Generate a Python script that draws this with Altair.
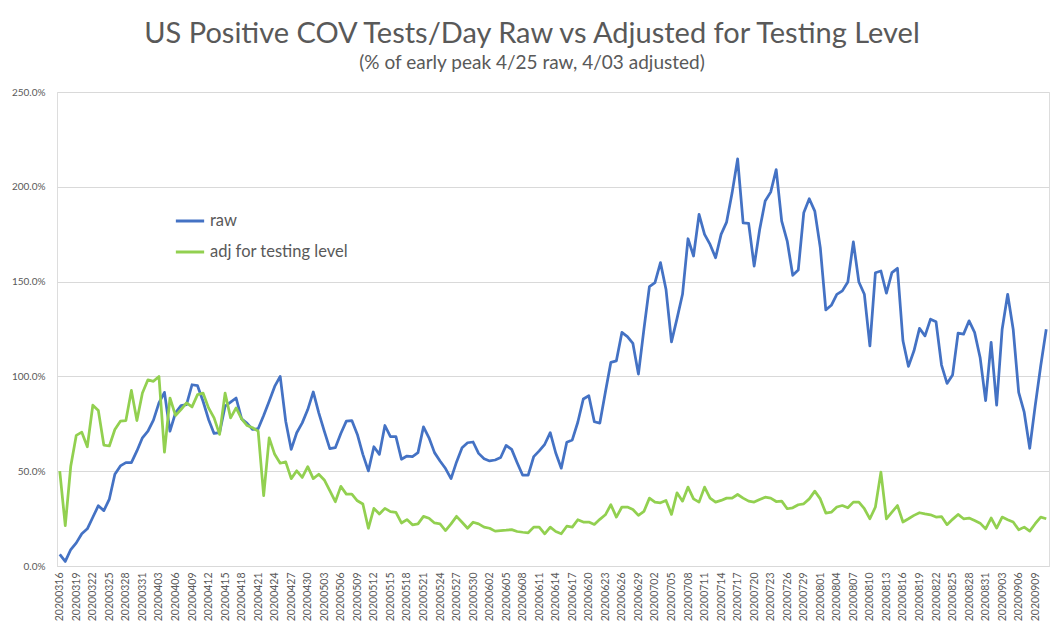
import altair as alt
import pandas as pd

# categories: daily dates 2020-03-16 .. 2020-09-11
dates = [d.strftime("%Y%m%d") for d in pd.date_range("2020-03-16", "2020-09-11", freq="D")]
tick_labels = dates[::3]

raw = [6.1, 2.4, 8.7, 12.2, 17.0, 19.6, 25.7, 31.8, 29.2, 35.3,
       48.4, 52.8, 54.5, 54.5, 60.7, 67.6, 71.1, 76.9, 86.0, 91.6,
       71.1, 80.8, 84.6, 85.1, 95.6, 95.1, 86.9, 77.3, 69.9, 70.3,
       84.3, 86.4, 88.6, 77.6, 75.2, 72.0, 72.4, 79.4, 86.9, 94.7,
       100.0, 76.4, 61.5, 70.3, 75.5, 82.5, 91.8, 80.8, 71.1, 61.9,
       62.4, 69.9, 76.4, 76.7, 69.4, 58.9, 50.2, 62.9, 58.9, 74.1,
       68.2, 68.2, 56.3, 58.0, 57.7, 59.8, 73.4, 67.6, 59.8, 55.4,
       51.4, 46.1, 54.9, 62.4, 65.0, 65.4, 59.4, 56.6, 55.4, 55.9,
       57.2, 63.6, 61.5, 54.5, 47.9, 47.9, 57.7, 60.7, 64.2, 70.3,
       59.6, 51.6, 65.3, 66.5, 75.8, 88.1, 89.8, 76.1, 75.4, 91.6,
       107.4, 108.2, 123.2, 121.0, 117.4, 101.2, 124.9, 147.4, 149.5, 160.0,
       146.0, 118.2, 130.5, 143.3, 172.6, 163.5, 185.4, 174.9, 169.6, 162.6,
       174.9, 181.4, 196.8, 214.7, 181.0, 180.7, 158.2, 177.5, 192.5, 197.2,
       209.1, 181.9, 171.4, 153.3, 156.1, 186.3, 193.7, 187.2, 167.9, 135.1,
       137.5, 143.3, 145.1, 149.8, 170.9, 149.8, 143.3, 116.1, 154.7, 155.6,
       143.9, 154.7, 157.0, 118.8, 105.3, 113.5, 125.3, 121.4, 130.2, 128.8,
       106.0, 96.3, 100.7, 122.8, 122.3, 129.3, 123.2, 110.0, 87.2, 117.9,
       84.9, 124.9, 143.3, 124.9, 91.6, 81.1, 62.1, 84.6, 105.6, 124.9]

adj = [50.0, 21.3, 52.8, 68.9, 70.6, 62.9, 84.8, 82.0, 63.8, 63.3,
       72.0, 76.4, 76.7, 92.6, 76.7, 91.2, 98.2, 97.4, 100.0, 60.1,
       88.6, 79.4, 82.5, 86.0, 83.9, 90.4, 91.2, 83.4, 78.1, 69.4,
       91.2, 78.1, 83.4, 77.6, 74.1, 72.9, 71.1, 37.1, 67.6, 58.9,
       54.2, 54.9, 46.1, 50.2, 46.7, 52.4, 46.1, 48.4, 45.4, 39.7,
       33.9, 42.0, 37.9, 37.9, 34.4, 32.7, 19.9, 30.4, 27.4, 30.4,
       28.7, 28.3, 22.7, 24.5, 21.7, 22.2, 26.2, 25.2, 22.7, 22.2,
       18.7, 22.2, 26.2, 23.1, 19.9, 23.1, 22.2, 20.5, 19.9, 18.4,
       18.7, 18.9, 19.2, 18.2, 17.8, 17.5, 20.5, 20.5, 17.0, 20.5,
       18.2, 17.0, 21.0, 20.5, 24.4, 23.2, 23.2, 21.9, 24.6, 27.0,
       32.3, 25.8, 31.1, 31.1, 29.8, 26.7, 28.8, 35.8, 33.7, 33.3,
       34.6, 27.2, 38.6, 34.2, 41.6, 35.4, 33.7, 41.6, 35.8, 33.7,
       34.6, 35.8, 35.8, 37.7, 35.8, 34.2, 33.7, 35.1, 36.3, 35.8,
       34.0, 34.2, 30.2, 30.7, 32.3, 32.8, 35.4, 39.5, 35.4, 27.9,
       28.4, 31.1, 31.9, 30.7, 33.7, 33.7, 30.2, 24.9, 31.1, 49.5,
       24.9, 28.4, 31.9, 23.2, 24.9, 26.7, 28.1, 27.5, 27.0, 25.8,
       26.1, 21.8, 24.6, 27.2, 24.9, 25.3, 24.0, 22.6, 19.6, 25.3,
       20.0, 25.8, 24.4, 23.2, 19.1, 20.5, 18.4, 22.3, 25.8, 24.9]

series_names = ["raw", "adj for testing level"]
series_colors = ["#4472C4", "#92D050"]
y_ticks = [0, 50, 100, 150, 200, 250]

rows = []
for d, v in zip(dates, raw):
    rows.append({"date": d, "value": v, "series": series_names[0], "order": 0})
for d, v in zip(dates, adj):
    rows.append({"date": d, "value": v, "series": series_names[1], "order": 1})
df = pd.DataFrame(rows)

FONT = "Lato"
GREY = "#595959"

chart = alt.Chart(df).mark_line(strokeWidth=2.75, strokeJoin="round").encode(
    x=alt.X("date:O", sort=dates,
            scale=alt.Scale(type="point", padding=0.5, domain=dates),
            axis=alt.Axis(title=None, values=tick_labels, labelAngle=-90,
                          labelFontSize=10.5, labelColor=GREY, labelFont=FONT,
                          ticks=False, domainColor="#D9D9D9", labelPadding=6,
                          grid=False)),
    y=alt.Y("value:Q", scale=alt.Scale(domain=[0, 250], nice=False),
            axis=alt.Axis(title=None, values=y_ticks,
                          labelExpr="format(datum.value, '.1f') + '%'",
                          labelFontSize=10, labelColor=GREY, labelFont=FONT,
                          ticks=False, domain=False, gridColor="#D9D9D9",
                          labelPadding=12)),
    color=alt.Color("series:N",
                    scale=alt.Scale(domain=series_names, range=series_colors),
                    legend=alt.Legend(title=None, orient="none", legendX=117, legendY=113,
                                      symbolType="stroke", symbolStrokeWidth=3,
                                      symbolSize=800, labelFontSize=16.5,
                                      labelColor=GREY, labelFont=FONT,
                                      rowPadding=6, labelOffset=4)),
    order=alt.Order("order:Q"),
    detail="series:N",
).properties(
    width=992,
    height=474,
    autosize=alt.AutoSizeParams(type="none"),
    padding={"left": 49, "top": 84, "right": 4, "bottom": 57},
    title=alt.TitleParams(
        text="US Positive COV Tests/Day Raw vs Adjusted for Testing Level",
        subtitle="(% of early peak 4/25 raw, 4/03 adjusted)",
        font=FONT, fontSize=29, fontWeight="normal", color=GREY,
        subtitleFont=FONT, subtitleFontSize=19, subtitleColor=GREY,
        anchor="middle", dx=-21, offset=14, subtitlePadding=5,
    ),
).configure_view(stroke=None).configure(background="white")

chart.save("out.html", embed_options={"renderer": "svg", "actions": False})
